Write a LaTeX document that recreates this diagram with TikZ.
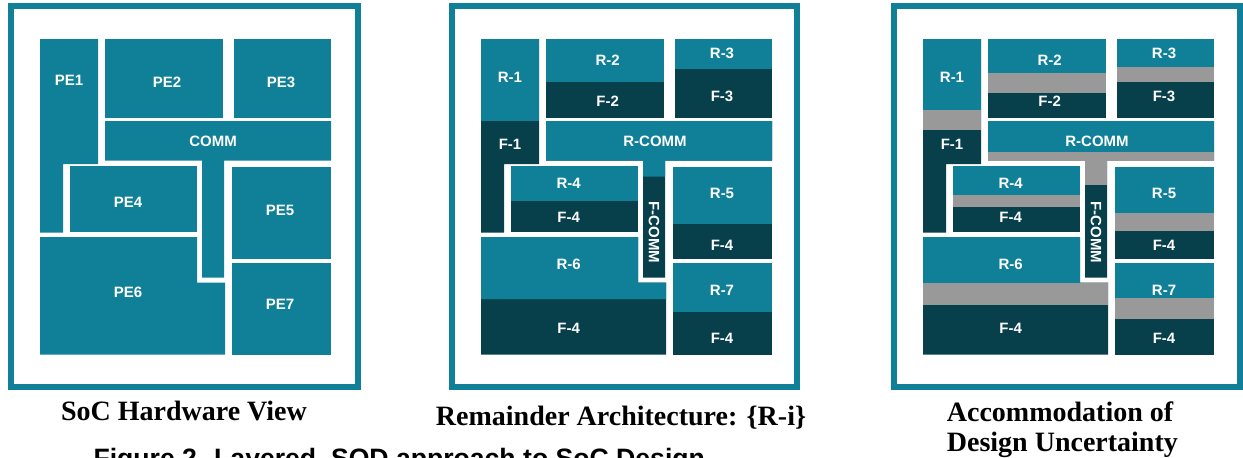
\documentclass[tikz,border=0pt]{standalone}
\usepackage{fontspec}
\setmainfont{Liberation Serif}
\setsansfont{Liberation Sans}
\definecolor{socteal}{RGB}{16,128,153}
\definecolor{socdark}{RGB}{7,63,75}
\definecolor{socgray}{RGB}{153,153,153}

\begin{document}
\begin{tikzpicture}[x=1pt,y=-1pt,
  rpart/.style={fill=socteal},fpart/.style={fill=socdark},upart/.style={fill=socgray},
  viewframe/.style={draw=socteal,line width=5.5pt},
  lbl/.style={text=white,inner sep=0pt,font=\sffamily\bfseries\fontsize{15}{18}\selectfont},
  captxt/.style={inner sep=0pt,font=\bfseries\fontsize{28}{30}\selectfont}]
\useasboundingbox (0,0) rectangle (1243,458);
\clip (0,0) rectangle (1243,458);
% block layout, the same in all three views
\foreach \dx/\fl/\fr/\st in {0/11/358/rpart,441/452/797/fpart,883/894/1240/fpart}
 {\draw[viewframe] (\fl,6) rectangle (\fr,387);
  \begin{scope}[xshift=\dx pt]
   \fill[\st] (40,39)--(98,39)--(98,164)--(63,164)--(63,232.5)--(40,232.5)--cycle;
   \fill[\st] (105,39) rectangle (223,117.5);
   \fill[\st] (234,39) rectangle (331,117.5);
   \fill[\st] (105,121)--(331,121)--(331,160.5)--(224,160.5)--(224,277.5)--(202,277.5)--(202,160.5)--(105,160.5)--cycle;
   \fill[\st] (70,166) rectangle (197,231.5);
   \fill[\st] (232,167) rectangle (331,258.5);
   \fill[\st] (40,237)--(197,237)--(197,282.5)--(225,282.5)--(225,354.5)--(40,354.5)--cycle;
   \fill[\st] (232,263) rectangle (331,354.5);
  \end{scope}}
% remainder parts
\begin{scope}[xshift=441pt]
\foreach \xa/\ya/\xb/\yb in {40/39/98/120.7,105/39/223/82,234/39/331/69,70/166/197/201,232/167/331/224,232/263/331/312}
  \fill[rpart] (\xa,\ya) rectangle (\xb,\yb);
\fill[rpart] (105,121)--(331,121)--(331,160.5)--(224,160.5)--(224,176.7)--(202,176.7)--(202,160.5)--(105,160.5)--cycle;
\fill[rpart] (40,237)--(197,237)--(197,282.5)--(225,282.5)--(225,299)--(40,299)--cycle;
\end{scope}
% remainder + uncertainty bands
\begin{scope}[xshift=883pt]
\foreach \xa/\ya/\yr/\xb/\yg in {40/39/110/98/130,105/39/73/223/93,234/39/67/331/82,105/121/152/331/160.5,70/166/195/197/206.7,232/167/213/331/231,232/263/298/331/319}
 {\fill[rpart] (\xa,\ya) rectangle (\xb,\yr);
  \fill[upart] (\xa,\yr) rectangle (\xb,\yg);}
\fill[upart] (202,160.5) rectangle (224,185);
\fill[rpart] (40,237) rectangle (197,282.5);
\fill[upart] (40,282.5) rectangle (225,305);
\end{scope}
% labels
\node[lbl] (pe1) at (69,80) {PE1};
\node[lbl] (pe2) at (167,82) {PE2};
\node[lbl] (pe3) at (281,82) {PE3};
\node[lbl] (comm) at (213,141) {COMM};
\node[lbl] (pe4) at (128,202) {PE4};
\node[lbl] (pe5) at (280,210) {PE5};
\node[lbl] (pe6) at (128,292) {PE6};
\node[lbl] (pe7) at (280,304) {PE7};
\foreach \dx/\v in {441/b,883/c}
 {\begin{scope}[xshift=\dx pt]
  \foreach \nm/\x/\y/\t in {r1/69/77.7/R-1,f1/69/144.3/F-1,r2/166.7/60.3/R-2,f2/166.7/101/F-2,
      r3/281/53.3/R-3,f3/281/96.7/F-3,rc/214/141.3/R-COMM,r4/127.7/183.3/R-4,f4/127.7/217.3/F-4,
      r5/281/193.3/R-5,f5/281/245.3/F-4,r6/127.7/264.3/R-6,f6/127.7/328.3/F-4,r7/281/290.3/R-7,f7/281/338.3/F-4}
    \node[lbl] (\nm\v) at (\x,\y) {\t};
  \node[lbl,rotate=-90] (fc\v) at (213,232.3) {F-COMM};
 \end{scope}}
% captions
\node[captxt,anchor=base] (cap1) at (184,420.7) {SoC Hardware View};
\node[captxt,anchor=base] (cap2) at (621,425) {Remainder Architecture: \{R-i\}};
\node[captxt,anchor=base west] (cap3a) at (946.7,421.7) {Accommodation of};
\node[captxt,anchor=base west] (cap3b) at (946.7,451.7) {Design Uncertainty};
\node[anchor=base west,inner sep=0pt,font=\sffamily\bfseries\fontsize{26.6}{30}\selectfont] (fig) at (93.3,467) {Figure 2. Layered, SOD approach to SoC Design};
\end{tikzpicture}
\end{document}
